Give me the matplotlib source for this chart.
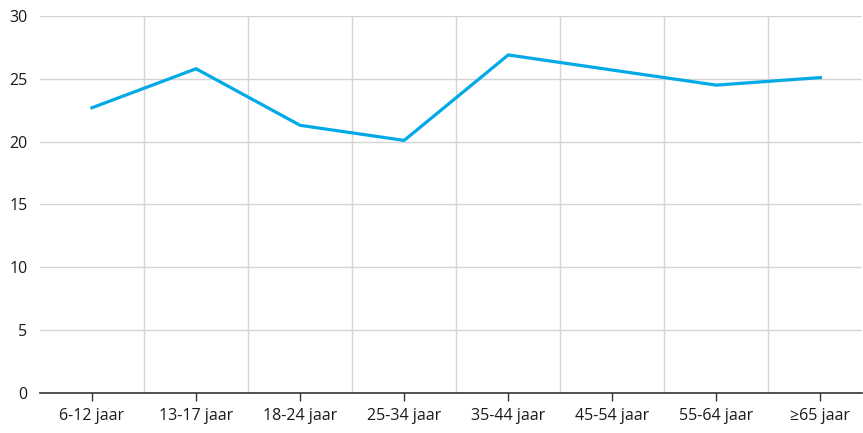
import matplotlib
matplotlib.use("Agg")
import matplotlib.pyplot as plt
import numpy as np

# --- Data ---
categories = ['6-12 jaar', '13-17 jaar', '18-24 jaar', '25-34 jaar',
              '35-44 jaar', '45-54 jaar', '55-64 jaar', '≥65 jaar']
values = [22.7, 25.8, 21.3, 20.1, 26.9, 25.7, 24.5, 25.1]
y_ticks = [0, 5, 10, 15, 20, 25, 30]

plt.rcParams['font.family'] = ['Open Sans', 'DejaVu Sans']

fig = plt.figure(figsize=(8.63, 4.33), dpi=100)
W, H = 863, 433
ax = fig.add_axes([40 / W, (H - 393) / H, 822 / W, 377 / H])

x = np.arange(len(categories))
ax.plot(x, values, color='#01A9E6', lw=2.3, solid_joinstyle='miter', zorder=3)

ax.set_xlim(-0.5, len(categories) - 0.6)
ax.set_ylim(0, 30)

# gridlines
for yt in y_ticks[1:]:
    ax.axhline(yt, color='#d4d4d4', lw=1, zorder=1)
for xb in x[:-1] + 0.5:
    ax.axvline(xb, color='#d4d4d4', lw=1, zorder=1)

ax.set_xticks(x)
ax.set_xticklabels(categories, fontsize=11.5, color='#1a1a1a')
ax.set_yticks(y_ticks)
ax.set_yticklabels([str(v) for v in y_ticks], fontsize=11.5, color='#1a1a1a')

ax.tick_params(axis='x', length=6, width=1, color='#333333', pad=5, direction='out')
ax.tick_params(axis='y', length=0, pad=9)

for s in ['top', 'right', 'left']:
    ax.spines[s].set_visible(False)
ax.spines['bottom'].set_color('#333333')
ax.spines['bottom'].set_linewidth(1.2)

fig.savefig('out.png', dpi=100)
